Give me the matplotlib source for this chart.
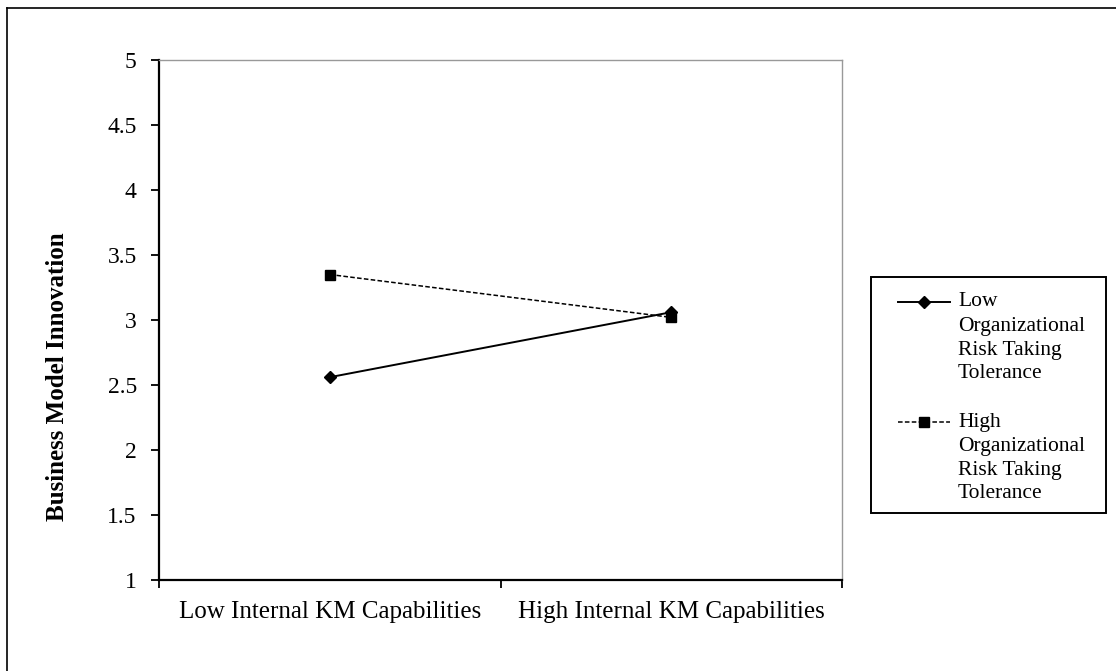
import matplotlib
matplotlib.use("Agg")
import matplotlib.pyplot as plt
from matplotlib.lines import Line2D
from matplotlib.patches import Rectangle

categories = ["Low Internal KM Capabilities", "High Internal KM Capabilities"]
low_risk = [2.56, 3.06]
high_risk = [3.35, 3.02]
series_labels = ["Low\nOrganizational\nRisk Taking\nTolerance",
                 "High\nOrganizational\nRisk Taking\nTolerance"]
yticks = [1, 1.5, 2, 2.5, 3, 3.5, 4, 4.5, 5]
ytick_labels = ["1", "1.5", "2", "2.5", "3", "3.5", "4", "4.5", "5"]

plt.rcParams['font.family'] = ['Liberation Serif', 'DejaVu Serif']

W, H = 1116, 671
fig = plt.figure(figsize=(W/100, H/100), dpi=100)
fig.patch.set_facecolor("white")


def fx(px):
    return px / W


def fy(py):
    return 1 - py / H


# outer frame (left and top edges visible in the reference)
fig.add_artist(Line2D([fx(7), fx(7)], [0, fy(8)], transform=fig.transFigure, color="black", linewidth=1.2))
fig.add_artist(Line2D([fx(7), 1], [fy(8), fy(8)], transform=fig.transFigure, color="black", linewidth=1.2))

styles = [dict(color="black", linestyle="-", linewidth=1.4, marker="D", markersize=6.5),
          dict(color="black", linestyle=(0, (3, 1.5)), linewidth=1.1, marker="s", markersize=7)]

ax = fig.add_axes([fx(159), fy(580), (842-159)/W, (580-60)/H])
x = [0.5, 1.5]
ax.plot(x, low_risk, **styles[0])
ax.plot(x, high_risk, **styles[1])

ax.set_xlim(0, 2)
ax.set_ylim(1, 5)
ax.set_xticks([0, 1, 2])
ax.set_xticklabels([])
ax.set_xticks(x, minor=True)
ax.set_xticklabels(categories, minor=True, fontsize=18)
ax.tick_params(axis="x", which="minor", length=0, pad=15)
ax.tick_params(axis="x", which="major", length=6, direction="out", width=1.3)
ax.set_yticks(yticks)
ax.set_yticklabels(ytick_labels, fontsize=17)
ax.tick_params(axis="y", length=6, direction="out", width=1.3, pad=10)
ax.spines["left"].set_linewidth(1.6)
ax.spines["bottom"].set_linewidth(1.6)
for s in ("top", "right"):
    ax.spines[s].set_color("#999999")
    ax.spines[s].set_linewidth(1.0)

fig.text(fx(58), fy(377), "Business Model Innovation", rotation=90, fontsize=18,
         fontweight="bold", ha="center", va="center")

# legend box (drawn manually so the key aligns with the first text line)
fig.add_artist(Rectangle((fx(871), fy(513)), (1106-871)/W, (513-277)/H,
                         transform=fig.transFigure, fill=False, edgecolor="black", linewidth=1.4))
entry_top = [302, 422]
line_step = 24
for label, st, y0 in zip(series_labels, styles, entry_top):
    key = Line2D([fx(898), fx(950)], [fy(y0), fy(y0)], transform=fig.transFigure,
                 color=st["color"], linestyle=st["linestyle"], linewidth=st["linewidth"])
    fig.add_artist(key)
    fig.add_artist(Line2D([fx(924)], [fy(y0)], transform=fig.transFigure, linestyle="none",
                          marker=st["marker"], markersize=st["markersize"], color="black"))
    for i, part in enumerate(label.split("\n")):
        fig.text(fx(958), fy(y0 + i * line_step), part, fontsize=15.5,
                 ha="left", va="center")

fig.savefig("out.png", dpi=100, facecolor="white")
